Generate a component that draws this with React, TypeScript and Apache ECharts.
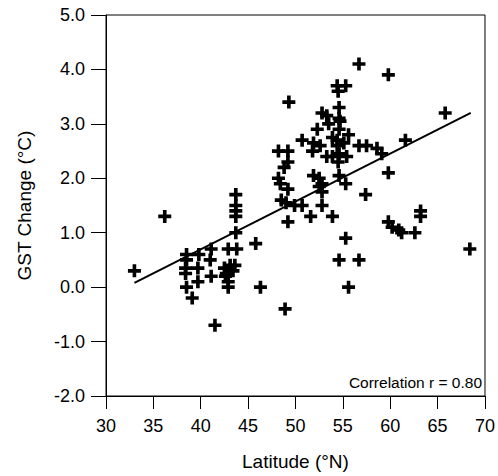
import React, { useEffect, useRef } from "react";
import * as echarts from "echarts";

const latitude: number[] = [
  33.0, 36.2, 38.5, 38.5, 38.4, 38.4, 38.5, 39.1, 39.8, 39.7, 39.7, 41.1, 41.0, 41.1, 41.5,
  42.9, 43.8, 42.5, 43.1, 43.6, 42.7, 42.6, 42.9, 42.9, 43.4, 43.7, 43.7, 43.7, 43.7, 43.7,
  45.8, 46.3, 48.9, 49.3, 48.2, 49.2, 49.2, 48.8, 48.2, 48.4, 49.2, 48.5, 49.0, 49.9, 50.7, 49.2,
  56.7, 59.8, 65.8, 54.4, 55.3, 54.5, 52.8, 53.3, 54.6, 54.6, 53.5, 54.7, 52.3, 54.6, 55.6, 53.9,
  50.7, 51.9, 52.6, 54.4, 54.4, 55.1, 56.7, 57.5, 58.6, 59.1, 61.6, 51.8, 53.3, 53.9, 54.6, 55.4,
  54.5, 59.8, 51.9, 52.5, 52.8, 52.5, 54.6, 55.3, 52.8, 57.4, 52.8, 51.6, 53.9, 63.2, 63.2, 59.8,
  60.2, 60.9, 61.2, 62.6, 55.3, 68.4, 54.6, 56.7, 55.6,
];
const gstChange: number[] = [
  0.3, 1.3, 0.6, 0.5, 0.35, 0.25, 0.0, -0.2, 0.6, 0.35, 0.1, 0.7, 0.5, 0.2, -0.7,
  0.7, 0.7, 0.35, 0.4, 0.4, 0.25, 0.2, 0.1, 0.0, 0.3, 1.7, 1.5, 1.4, 1.3, 1.0,
  0.8, 0.0, -0.4, 3.4, 2.5, 2.5, 2.3, 2.2, 2.0, 1.9, 1.8, 1.6, 1.55, 1.5, 1.5, 1.2,
  4.1, 3.9, 3.2, 3.7, 3.7, 3.6, 3.2, 3.15, 3.3, 3.1, 3.0, 3.05, 2.9, 2.9, 2.8, 2.75,
  2.7, 2.65, 2.6, 2.7, 2.6, 2.65, 2.6, 2.6, 2.55, 2.45, 2.7, 2.5, 2.4, 2.4, 2.45, 2.4,
  2.3, 2.1, 2.05, 2.0, 1.9, 1.85, 2.05, 1.9, 1.75, 1.7, 1.5, 1.3, 1.3, 1.4, 1.3, 1.2,
  1.1, 1.05, 1.0, 1.0, 0.9, 0.7, 0.5, 0.5, 0.0,
];
const fitLat: number[] = [33.0, 68.5];
const fitGst: number[] = [0.08, 3.2];
const xTicks = { min: 30, max: 70, interval: 5 };
const yTicks = { min: -2, max: 5, interval: 1 };
const correlationText = "Correlation r = 0.80";

const plusPath = "path://M3.6,0H6.4V3.6H10V6.4H6.4V10H3.6V6.4H0V3.6H3.6Z";

export default function App() {
  const ref = useRef<HTMLDivElement>(null);
  useEffect(() => {
    if (!ref.current) return;
    const chart = echarts.init(ref.current, undefined, { renderer: "svg" });
    const font = "Arial, 'Liberation Sans', sans-serif";
    chart.setOption({
      animation: false,
      backgroundColor: "#ffffff",
      grid: {
        left: 106,
        right: 11,
        top: 15,
        bottom: 79,
        show: true,
        borderColor: "#000",
        borderWidth: 1,
        backgroundColor: "transparent",
      },
      xAxis: {
        type: "value",
        min: xTicks.min,
        max: xTicks.max,
        interval: xTicks.interval,
        name: "Latitude (°N)",
        nameLocation: "middle",
        nameGap: 56,
        nameTextStyle: { fontSize: 19, color: "#000", fontFamily: font },
        axisLine: { show: true, onZero: false, lineStyle: { color: "#000", width: 1 } },
        axisTick: { show: true, inside: false, length: 13, lineStyle: { color: "#000" } },
        axisLabel: { fontSize: 18, color: "#000", fontFamily: font, margin: 21 },
        splitLine: { show: false },
      },
      yAxis: {
        type: "value",
        min: yTicks.min,
        max: yTicks.max,
        interval: yTicks.interval,
        name: "GST Change (°C)",
        nameLocation: "middle",
        nameRotate: 90,
        nameGap: 72,
        nameTextStyle: { fontSize: 19, color: "#000", fontFamily: font },
        axisLine: { show: true, onZero: false, lineStyle: { color: "#000", width: 1 } },
        axisTick: { show: true, inside: false, length: 15, lineStyle: { color: "#000" } },
        axisLabel: {
          fontSize: 18,
          color: "#000",
          fontFamily: font,
          margin: 21,
          formatter: (v: number) => v.toFixed(1),
        },
        splitLine: { show: false },
      },
      series: [
        {
          type: "scatter",
          data: latitude.map((x, i) => [x, gstChange[i]]),
          symbol: plusPath,
          symbolSize: 13,
          itemStyle: { color: "#000", opacity: 1 },
          z: 3,
        },
        {
          type: "line",
          data: fitLat.map((x, i) => [x, fitGst[i]]),
          showSymbol: false,
          symbol: "none",
          lineStyle: { color: "#000", width: 2 },
          z: 2,
        },
      ],
      graphic: [
        {
          type: "text",
          right: 16,
          top: 374,
          style: {
            text: correlationText,
            fontSize: 15.5,
            fill: "#000",
            fontFamily: font,
          },
        },
      ],
    });
    return () => chart.dispose();
  }, []);
  return (
    <div
      ref={ref}
      style={{ position: "absolute", left: 0, top: 0, width: 498, height: 476 }}
    />
  );
}
